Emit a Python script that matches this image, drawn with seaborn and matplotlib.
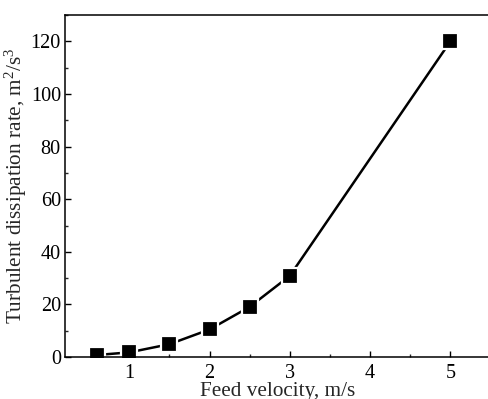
import matplotlib
matplotlib.use("Agg")
import matplotlib.pyplot as plt
from matplotlib.ticker import MultipleLocator
import seaborn as sns
import pandas as pd

# Feed velocity (m/s) and turbulent dissipation rate (m^2/s^3)
feed_velocity = [0.6, 1.0, 1.5, 2.0, 2.5, 3.0, 5.0]
dissipation_rate = [0.8, 1.8, 4.9, 10.5, 19.1, 30.9, 120.0]

x_ticks = [1, 2, 3, 4, 5]
y_ticks = [0, 20, 40, 60, 80, 100, 120]

sns.set_theme(style="ticks")
plt.rcParams["font.family"] = ["Liberation Serif", "DejaVu Serif"]
plt.rcParams["mathtext.fontset"] = "custom"
plt.rcParams["mathtext.rm"] = "Liberation Serif"
plt.rcParams["mathtext.it"] = "Liberation Serif:italic"

df = pd.DataFrame({"v": feed_velocity, "eps": dissipation_rate})

fig = plt.figure(figsize=(4.89, 3.99), dpi=100)
ax = fig.add_axes([0.133, 0.105, 0.870, 0.857])

sns.lineplot(data=df, x="v", y="eps", ax=ax, color="black", linewidth=1.8,
             marker="s", markersize=11, markerfacecolor="black",
             markeredgecolor="white", markeredgewidth=1.6)

ax.set_xlim(0.2, 5.5)
ax.set_ylim(0, 130)
ax.set_xticks(x_ticks)
ax.set_yticks(y_ticks)
ax.xaxis.set_minor_locator(MultipleLocator(0.5))
ax.yaxis.set_minor_locator(MultipleLocator(10))
ax.tick_params(which="major", direction="in", length=4, width=1, labelsize=14.6,
               colors="black")
ax.tick_params(axis="y", which="major", pad=3)
ax.tick_params(axis="x", which="major", pad=5)
ax.tick_params(which="minor", direction="in", length=2, width=1)

for s in ax.spines.values():
    s.set_linewidth(1.1)
    s.set_color("black")

ax.set_xlabel("Feed velocity, m/s", fontsize=15.3, labelpad=-0.5)
ax.set_ylabel("Turbulent dissipation rate, m$^{2}$/s$^{3}$", fontsize=15.3, labelpad=1)

fig.savefig("out.png", dpi=100, facecolor="white")
